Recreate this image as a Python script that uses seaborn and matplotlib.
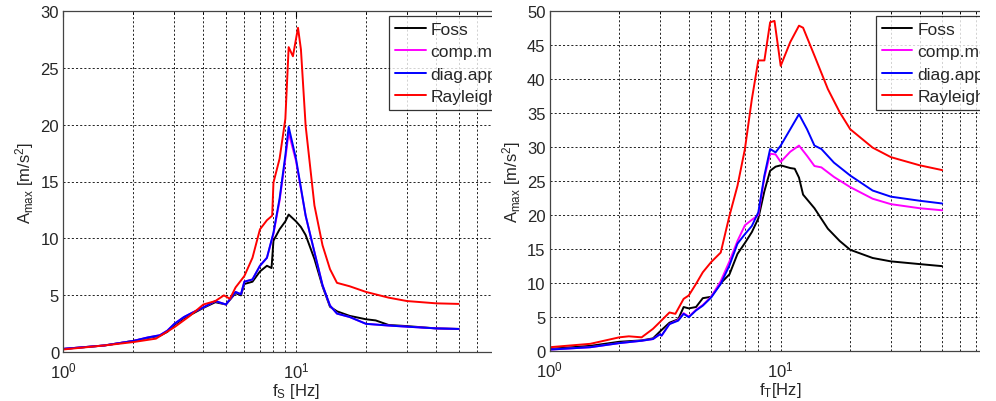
import matplotlib

matplotlib.use("Agg")
import matplotlib.pyplot as plt
import numpy as np
import pandas as pd
import seaborn as sns
from matplotlib.patches import Rectangle
from matplotlib.ticker import FixedLocator, LogLocator

# ---- left panel: A_max vs f_S ----
fs_foss = [1, 1.5, 2, 2.3, 2.6, 2.8, 3, 3.3, 3.6, 4, 4.5, 5, 5.5, 5.8, 6, 6.5, 7, 7.5, 7.85,
           8, 8.5, 9, 9.3, 10, 10.5, 11, 12, 13, 14, 15, 17, 20, 22, 25, 30, 40, 50]
amax_s_foss = [0.3, 0.6, 1.0, 1.25, 1.45, 1.8, 2.4, 3.0, 3.4, 3.9, 4.4, 4.2, 5.2, 5.0, 6.0, 6.2,
               7.1, 7.6, 7.4, 9.8, 10.8, 11.5, 12.1, 11.5, 11.0, 10.3, 8.2, 5.8, 4.0, 3.6,
               3.2, 2.9, 2.8, 2.4, 2.3, 2.1, 2.05]
fs_model = [1, 1.5, 2, 2.3, 2.6, 2.8, 3, 3.3, 3.6, 4, 4.5, 5, 5.5, 5.8, 6, 6.5, 7, 7.5, 8,
            8.5, 9, 9.3, 10, 11, 12, 13, 14, 15, 17, 20, 25, 30, 40, 50]
amax_s_comp = [0.3, 0.6, 1.0, 1.3, 1.5, 1.9, 2.5, 3.1, 3.5, 3.95, 4.5, 4.2, 5.3, 5.1, 6.2,
               6.4, 7.6, 8.3, 10.4, 13.3, 17.0, 19.3, 16.8, 12.0, 8.8, 5.9, 4.1, 3.4, 3.1,
               2.5, 2.35, 2.25, 2.1, 2.05]
amax_s_diag = [0.3, 0.6, 1.0, 1.3, 1.5, 1.9, 2.5, 3.1, 3.5, 3.95, 4.5, 4.2, 5.3, 5.1, 6.2,
               6.4, 7.6, 8.3, 10.5, 13.5, 17.3, 19.8, 17.0, 12.0, 8.8, 5.9, 4.1, 3.4, 3.1,
               2.5, 2.35, 2.25, 2.1, 2.05]
fs_ray = [1, 1.5, 2, 2.5, 3, 3.5, 4, 4.5, 4.9, 5.2, 5.5, 6, 6.5, 7, 7.5, 7.9, 8, 8.5, 9, 9.3,
          9.7, 10.2, 10.5, 11, 12, 13, 14, 15, 17, 20, 25, 30, 40, 50]
amax_s_ray = [0.25, 0.6, 0.9, 1.2, 2.2, 3.2, 4.2, 4.5, 5.0, 4.7, 5.7, 6.7, 8.3, 10.8, 11.6,
              12.0, 14.9, 17.0, 20.5, 26.8, 26.0, 28.5, 26.6, 19.9, 12.9, 9.4, 7.3, 6.1, 5.8,
              5.3, 4.8, 4.5, 4.3, 4.25]

# ---- right panel: A_max vs f_T ----
ft_foss = [1, 1.5, 2, 2.5, 2.8, 3, 3.3, 3.6, 3.8, 4, 4.3, 4.6, 5, 5.5, 6, 6.5, 7, 7.5, 8,
           8.5, 9, 9.5, 10, 11, 11.5, 12, 12.5, 14, 16, 18, 20, 25, 30, 40, 50]
amax_t_foss = [0.35, 0.8, 1.4, 1.6, 1.9, 2.9, 4.2, 4.7, 6.5, 6.3, 6.5, 7.8, 8.0, 10.0, 11.3,
               14.3, 15.9, 17.5, 19.5, 23.5, 26.5, 27.1, 27.3, 26.9, 26.8, 25.5, 23.0, 21.0,
               18.0, 16.2, 14.9, 13.7, 13.2, 12.8, 12.5]
ft_model = [1, 1.5, 2, 2.5, 2.8, 3, 3.05, 3.3, 3.6, 3.8, 4, 4.3, 4.6, 5, 5.5, 6, 6.5, 7, 7.5,
            8, 8.5, 9, 9.5, 10, 11, 12, 13, 14, 15, 17, 20, 25, 30, 40, 50]
amax_t_comp = [0.25, 0.6, 1.2, 1.55, 1.8, 2.5, 2.3, 4.0, 4.6, 5.6, 5.1, 6.1, 6.8, 8.0, 10.3,
               13.2, 16.2, 18.5, 19.3, 20.0, 25.5, 29.0, 28.9, 27.8, 29.3, 30.2, 28.7, 27.2,
               27.0, 25.6, 24.1, 22.4, 21.6, 21.0, 20.7]
amax_t_diag = [0.25, 0.6, 1.2, 1.55, 1.8, 2.5, 2.3, 4.0, 4.5, 5.5, 5.0, 6.0, 6.7, 7.9, 9.9,
               12.6, 15.8, 17.2, 18.4, 20.4, 25.8, 29.7, 29.2, 30.2, 32.6, 34.8, 32.6, 30.2,
               29.7, 27.7, 25.8, 23.6, 22.7, 22.1, 21.7]
ft_ray = [1, 1.5, 2, 2.2, 2.5, 2.8, 3, 3.3, 3.5, 3.8, 4, 4.3, 4.6, 5, 5.5, 6, 6.5, 7, 7.5, 8,
          8.5, 9, 9.4, 10, 11, 12, 12.5, 14, 16, 18, 20, 25, 30, 40, 50]
amax_t_ray = [0.6, 1.1, 2.05, 2.2, 2.05, 3.3, 4.3, 5.7, 5.5, 7.7, 8.2, 9.9, 11.6, 13.1, 14.5,
              19.9, 24.3, 29.7, 37.0, 42.7, 42.7, 48.3, 48.5, 41.9, 45.4, 47.8, 47.5, 43.4,
              38.5, 35.1, 32.6, 29.9, 28.5, 27.3, 26.6]

methods = ["Foss", "comp.model", "diag.approx", "Rayleigh"]
colors = {"Foss": "black", "comp.model": "magenta", "diag.approx": "blue", "Rayleigh": "red"}


def long_frame(parts):
    frames = [pd.DataFrame({"f": f, "A": a, "method": m}) for m, f, a in parts]
    return pd.concat(frames, ignore_index=True)


df_s = long_frame([
    ("Foss", fs_foss, amax_s_foss),
    ("comp.model", fs_model, amax_s_comp),
    ("diag.approx", fs_model, amax_s_diag),
    ("Rayleigh", fs_ray, amax_s_ray),
])
df_t = long_frame([
    ("Foss", ft_foss, amax_t_foss),
    ("comp.model", ft_model, amax_t_comp),
    ("diag.approx", ft_model, amax_t_diag),
    ("Rayleigh", ft_ray, amax_t_ray),
])

sns.set_style("white")
plt.rcParams["font.family"] = ["Liberation Sans", "DejaVu Sans"]
plt.rcParams["mathtext.fontset"] = "custom"
plt.rcParams["mathtext.rm"] = "Liberation Sans"
plt.rcParams["mathtext.it"] = "Liberation Sans"

W, H = 996, 402
fig = plt.figure(figsize=(W / 100, H / 100), dpi=100)
fig.patch.set_facecolor("white")

# axes boxes in pixels; the right edge sits at 100 Hz, beyond the visible crop
ax_l = fig.add_axes([63.3 / W, (H - 353.3) / H, 465.4 / W, 341.6 / H], zorder=0)
ax_r = fig.add_axes([549.7 / W, (H - 352.3) / H, 462.0 / W, 340.6 / H], zorder=2)

panels = [
    (ax_l, df_s, 30, 5, r"f$_\mathregular{S}$ [Hz]"),
    (ax_r, df_t, 50, 5, r"f$_\mathregular{T}$[Hz]"),
]
for ax, df, ymax, ystep, xlabel in panels:
    sns.lineplot(data=df, x="f", y="A", hue="method", hue_order=methods, palette=colors,
                 estimator=None, sort=True, linewidth=1.4, ax=ax)
    ax.set_xscale("log")
    ax.set_xlim(1, 100)
    ax.xaxis.set_major_locator(FixedLocator([1, 10]))
    ax.xaxis.set_minor_locator(LogLocator(base=10, subs=np.arange(2, 10), numticks=10))
    ax.set_ylim(0, ymax)
    ax.set_yticks(np.arange(0, ymax + 1, ystep))
    ax.grid(True, which="both", axis="x", color="black", linestyle=(0, (2.5, 2.5)), linewidth=0.6)
    ax.grid(True, which="major", axis="y", color="black", linestyle=(0, (2.5, 2.5)), linewidth=0.6)
    ax.tick_params(direction="in", which="both", top=True, right=True, labelsize=12, pad=3,
                   length=4, color="black")
    ax.tick_params(axis="x", pad=6)
    ax.tick_params(which="minor", length=2)
    for sp in ax.spines.values():
        sp.set_color("#444444")
        sp.set_linewidth(0.9)
    ax.set_xlabel(xlabel, fontsize=12, labelpad=0)
    ax.set_ylabel(r"A$_\mathregular{max}$ [m/s$^\mathregular{2}$]", fontsize=12, labelpad=3)
    handles, labels = ax.get_legend_handles_labels()
    leg = ax.legend(handles, labels, loc="upper left", fontsize=12.5, frameon=True,
                    fancybox=False, borderaxespad=0, labelspacing=0.42, borderpad=0.35,
                    handlelength=1.75, handletextpad=0.3)
    leg.get_frame().set_edgecolor("black")
    leg.get_frame().set_linewidth(0.9)
    for line in leg.get_lines():
        line.set_linewidth(1.4)

ax_l.get_legend().set_bbox_to_anchor((0.700, 0.985), transform=ax_l.transAxes)
ax_r.get_legend().set_bbox_to_anchor((0.706, 0.985), transform=ax_r.transAxes)

# the reference is cropped just past 70 Hz in both panels
fig.add_artist(Rectangle((492 / W, 0), (549 - 492) / W, 1, transform=fig.transFigure,
                         facecolor="white", edgecolor="none", zorder=1))
fig.add_artist(Rectangle((980 / W, 0), (W - 980) / W + 0.01, 1, transform=fig.transFigure,
                         facecolor="white", edgecolor="none", zorder=3))

fig.savefig("out.png", dpi=100)
plt.close(fig)
